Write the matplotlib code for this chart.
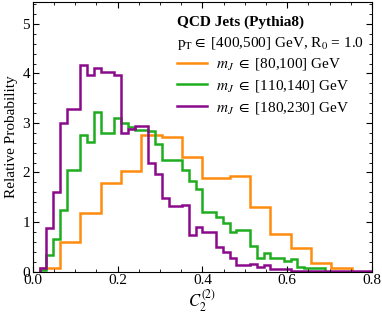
import numpy as np
import matplotlib
matplotlib.use("Agg")
import matplotlib.pyplot as plt
from matplotlib.ticker import MultipleLocator, FormatStrFormatter
from matplotlib.lines import Line2D

plt.rcParams['font.family'] = ['Liberation Serif', 'DejaVu Serif']
plt.rcParams['mathtext.fontset'] = 'stix'

# bin width of the fine histograms
bw = 0.016

# m_J in [80,100] GeV (coarse bins)
orange_edges = [0.016, 0.064, 0.112, 0.160, 0.208, 0.256, 0.304, 0.352, 0.400,
                0.464, 0.512, 0.560, 0.608, 0.656, 0.704, 0.752]
orange_vals = [0.07, 0.59, 1.19, 1.78, 2.03, 2.75, 2.72, 2.31, 1.89,
               1.92, 1.30, 0.75, 0.47, 0.18, 0.08]

# m_J in [110,140] GeV, bins of 0.016 starting at 0.016
green_vals = [0.03, 0.34, 0.65, 1.25, 2.05, 2.05, 2.75, 2.61, 3.23, 2.80,
              2.80, 3.11, 2.99, 2.92, 2.86, 2.86, 2.84, 2.57, 2.26, 2.26,
              2.26, 2.06, 1.83, 1.66, 1.20, 1.20, 1.11, 0.99, 0.80, 0.84,
              0.84, 0.51, 0.27, 0.38, 0.28, 0.28, 0.22, 0.25, 0.10, 0.07,
              0.07, 0.07]

# m_J in [180,230] GeV, bins of 0.016 starting at 0.016
purple_vals = [0.07, 0.88, 1.60, 2.99, 3.29, 3.29, 4.16, 3.97, 4.10, 4.02,
               4.02, 3.97, 2.80, 2.87, 2.94, 2.94, 2.20, 1.96, 1.49, 1.32,
               1.32, 1.35, 0.74, 0.90, 0.80, 0.80, 0.50, 0.40, 0.27, 0.13,
               0.13, 0.15, 0.10, 0.13, 0.05, 0.05, 0.05, 0.02, 0.02, 0.02,
               0.02, 0.02, 0.02, 0.02, 0.02, 0.02, 0.02, 0.02, 0.02]

labels = [r'$m_J\ \in$ [80,100] GeV', r'$m_J\ \in$ [110,140] GeV',
          r'$m_J\ \in$ [180,230] GeV']
colors = ['#ff8c0f', '#1fad1f', '#8b0a8b']

green_edges = bw * np.arange(1, len(green_vals) + 2)
purple_edges = bw * np.arange(1, len(purple_vals) + 2)

fig = plt.figure(figsize=(3.82, 3.18), dpi=100)
ax = fig.add_axes([0.086, 0.146, 0.888, 0.849])

lw = 1.8
ax.stairs(orange_vals, orange_edges, color=colors[0], lw=lw)
ax.stairs(green_vals, green_edges, color=colors[1], lw=lw)
ax.stairs(purple_vals, purple_edges, color=colors[2], lw=lw)

ax.set_xlim(0, 0.8)
ax.set_ylim(0, 5.45)
ax.xaxis.set_major_locator(MultipleLocator(0.2))
ax.xaxis.set_minor_locator(MultipleLocator(0.05))
ax.yaxis.set_major_locator(MultipleLocator(1))
ax.yaxis.set_minor_locator(MultipleLocator(0.2))
ax.xaxis.set_major_formatter(FormatStrFormatter('%.1f'))
ax.tick_params(which='both', direction='in', top=True, right=True,
               labelsize=11, pad=2)
ax.tick_params(which='major', length=4, width=0.8)
ax.tick_params(which='minor', length=2, width=0.6)
for s in ax.spines.values():
    s.set_linewidth(0.8)

ax.set_xlabel(r'$C_2^{(2)}$', fontsize=12, labelpad=0)
ax.set_ylabel('Relative Probability', fontsize=11, labelpad=3)

ax.text(0.424, 0.925, 'QCD Jets (Pythia8)', transform=ax.transAxes,
        fontsize=11, fontweight='bold', va='center', ha='left')
ax.text(0.424, 0.845, r'p$_\mathrm{T}$$\in$ [400,500] GeV, R$_0$ = 1.0',
        transform=ax.transAxes, fontsize=11, va='center', ha='left')

handles = [Line2D([], [], color=c, lw=lw) for c in colors]
ax.legend(handles, labels, loc='upper left', bbox_to_anchor=(0.424, 0.797),
          frameon=False, fontsize=11, handlelength=2.0, handletextpad=0.55,
          labelspacing=0.38, borderpad=0, borderaxespad=0)

fig.savefig('out.png', dpi=100)
